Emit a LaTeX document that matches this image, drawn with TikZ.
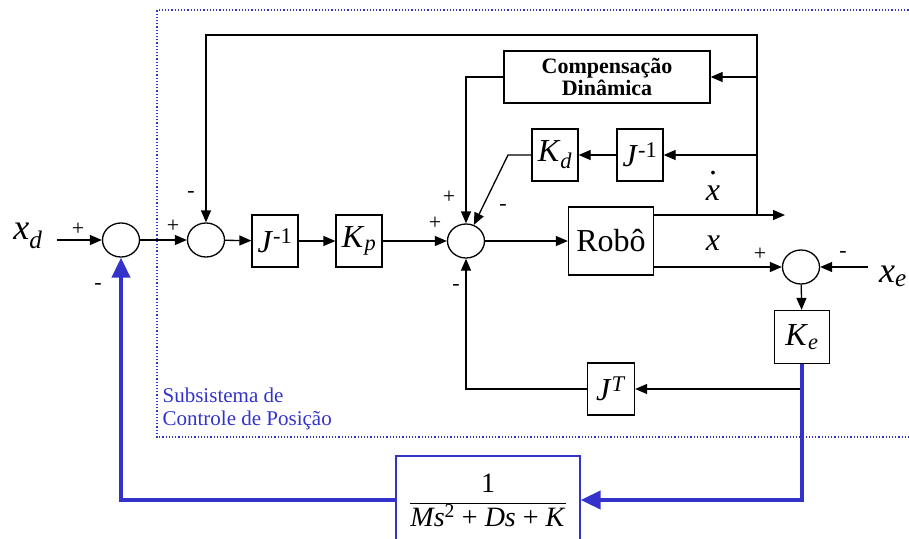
\documentclass[tikz,border=0pt]{standalone}
\usepackage{fontspec}
\setmainfont{Liberation Serif}
\usetikzlibrary{arrows.meta,shapes.geometric,positioning}
\definecolor{loopblue}{RGB}{51,51,204}
\newcommand{\subvar}[2]{\textit{#1}\textsubscript{\textit{#2}}}
\newcommand{\dotvar}[1]{\ooalign{\textit{#1}\cr\hidewidth\raisebox{0.8em}{.}\hidewidth\cr}}
\begin{document}
\begin{tikzpicture}[x=1pt,y=-1pt,
    line width=1.3pt,
    >={Triangle[length=12pt,width=10pt]},
    blk/.style={draw, minimum width=46pt, minimum height=52pt, inner sep=0pt},
    sumnode/.style={draw, ellipse, minimum width=37pt, minimum height=34pt, inner sep=0pt},
    sig/.style={font=\fontsize{22}{22}\selectfont, inner sep=0pt},
    lbl/.style={font=\fontsize{32}{32}\selectfont, inner sep=0pt},
    bluelink/.style={draw=loopblue, line width=4pt, -{Triangle[length=20pt,width=18pt]}}]
  \useasboundingbox (0,0) rectangle (909,538);
  \draw[loopblue, dotted, line width=1.2pt] (915,10) -- (157,10) -- (157,437) -- (915,437);

  \node[sumnode] (s1) at (121,240) {};
  \node[sumnode] (s2) at (206,240) {};
  \node[blk, lbl] (jinv) at (275,241) {\textit{J}\textsuperscript{-1}};
  \node[blk, lbl] (kp) at (359,241) {\subvar{K}{p}};
  \node[sumnode] (s3) at (466,241) {};
  \node[blk, lbl, minimum width=85pt, minimum height=68pt] (robo) at (611,241) {Robô};
  \node[sumnode] (s4) at (801,267) {};
  \node[blk, lbl, minimum width=55pt, minimum height=53pt] (ke) at (802,337) {\subvar{K}{e}};
  \node[blk, lbl, minimum width=47pt] (jt) at (611,389) {\textit{J}\textsuperscript{\textit{T}}};
  \node[blk, lbl] (kd) at (555,155) {\subvar{K}{d}};
  \node[blk, lbl] (jinv2) at (640,155) {\textit{J}\textsuperscript{-1}};
  \node[blk, minimum width=206pt, minimum height=52pt, align=center,
        font=\fontsize{22}{22}\selectfont\bfseries] (comp) at (607,77) {Compensação\\Dinâmica};
  \node[draw=loopblue, line width=1.3pt, minimum width=184pt, minimum height=88pt,
        font=\fontsize{28}{28}\selectfont] (plant) at (488,500)
        {$\displaystyle\frac{\mbox{1}}{\mbox{\textit{Ms}\textsuperscript{2} + \textit{Ds} + \textit{K}}}$};

  \node[lbl, font=\fontsize{36}{36}\selectfont] (xd) at (28,236) {\subvar{x}{d}};
  \node[lbl, font=\fontsize{36}{36}\selectfont] (xe) at (893,276) {\subvar{x}{e}};
  \node[lbl] (xpos) at (713,243) {\textit{x}};
  \node[lbl] (xvel) at (713,193) {\dotvar{x}};
  \node[align=left, anchor=north west, text=loopblue, inner sep=0pt,
        font=\fontsize{21}{23}\selectfont] (subsys) at (162,387) {Subsistema de\\Controle de Posição};

  \node[sig] (p1) at (78,229) {+};
  \node[sig] (m1) at (98,286) {-};
  \node[sig] (p2) at (173,226) {+};
  \node[sig] (m2) at (191,194) {-};
  \node[sig] (p3) at (435,223) {+};
  \node[sig] (p4) at (449,197) {+};
  \node[sig] (m3) at (503,207) {-};
  \node[sig] (m4) at (456,287) {-};
  \node[sig] (p5) at (760,254) {+};
  \node[sig] (m5) at (843,254) {-};

  \coordinate (xdin) at (57,240);
  \coordinate (xein) at (868,267);
  \coordinate (vout) at (785,215);
  \coordinate (vjoin) at (757,215);
  \coordinate (topleft) at (757,35);
  \coordinate (kdbend) at (508,155);
  \coordinate (kejoin) at (ke.south |- jt);

  \draw[->] (xdin) -- (s1);
  \draw[->] (s1) -- (s2);
  \draw[->] (s2) -- (jinv);
  \draw[->] (jinv) -- (kp);
  \draw[->] (kp) -- (s3);
  \draw[->] (s3) -- (robo);
  \draw[->] (robo.east |- vout) -- (vout);
  \draw[->] (robo.east |- s4) -- (s4);
  \draw[->] (xein) -- (s4);
  \draw[->] (s4) -- (ke);
  \draw[->] (vjoin) -- (topleft) -| (s2);
  \draw[->] (vjoin |- comp) -- (comp);
  \draw[->] (vjoin |- jinv2) -- (jinv2);
  \draw[->] (jinv2) -- (kd);
  \draw[->] (kd) -- (kdbend) -- (s3);
  \draw[->] (comp) -| (s3);
  \draw[->] (kejoin) -- (jt);
  \draw[->] (jt) -| (s3);
  \draw[bluelink] (ke.south) |- (plant);
  \draw[bluelink] (plant) -| (s1);
\end{tikzpicture}
\end{document}
